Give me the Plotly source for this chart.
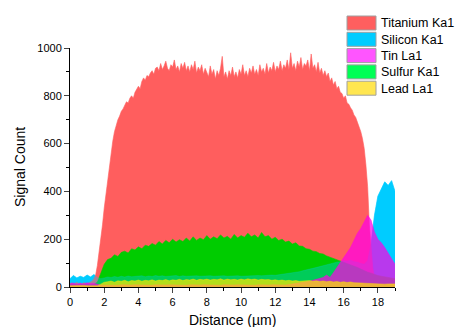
import numpy as np
import plotly.graph_objects as go

# ---------------- data ----------------
x_ti = [round(i * 0.1, 1) for i in range(191)]
titanium = [
    12, 18, 10, 15, 20, 14, 16, 11, 19, 15, 13, 17, 20, 25, 35,
    50, 90, 140, 200, 260, 330, 390, 450, 500, 560, 610, 650, 680, 700, 715,
    735, 745, 760, 775, 770, 790, 800, 790, 815, 825,
    840, 830, 860, 875, 865, 885, 880, 895, 905, 890,
    915, 920, 905, 935, 910, 925, 945, 915, 905, 930,
    920, 950, 910, 925, 900, 935, 915, 940, 905, 925,
    900, 930, 910, 945, 895, 920, 905, 930, 890, 915,
    900, 880, 925, 890, 910, 870, 905, 885, 915, 965,
    880, 900, 870, 905, 885, 920, 880, 900, 875, 910,
    890, 930, 885, 905, 880, 915, 895, 925, 890, 910,
    885, 930, 900, 915, 890, 935, 895, 920, 905, 940,
    900, 925, 910, 945, 905, 930, 915, 950, 910, 980,
    915, 935, 905, 945, 920, 960, 910, 935, 925, 950,
    905, 975, 915, 930, 900, 940, 895, 915, 885, 905,
    880, 895, 860, 875, 845, 860, 830, 840, 815, 810,
    790, 800, 770, 765, 750, 740, 720, 710, 690, 670,
    650, 620, 580, 510, 420, 260, 150, 80, 40, 20,
    15, 12, 10, 14, 11, 9, 12, 10, 13, 9, 11,
]

x_el = [round(i * 0.2, 1) for i in range(96)]
silicon = [
    35, 48, 38, 45, 40, 50, 42, 52, 40, 35,
    38, 42, 40, 44, 41, 45, 42, 46, 43, 45,
    44, 47, 43, 46, 44, 48, 45, 47, 44, 46,
    45, 48, 44, 47, 45, 46, 44, 47, 45, 46,
    44, 47, 45, 46, 44, 47, 45, 46, 44, 47,
    45, 46, 45, 47, 46, 48, 47, 49, 48, 50,
    49, 51, 52, 54, 55, 58, 60, 64, 68, 70,
    75, 78, 82, 86, 90, 94, 97, 101, 104, 106,
    110, 108, 112, 106, 104, 98, 95, 110, 180, 300,
    380, 410, 440, 425, 445, 400,
]
tin = [
    14, 17, 12, 16, 13, 18, 14, 16, 12, 8,
    8, 7, 9, 8, 7, 9, 8, 7, 8, 9,
    8, 7, 9, 8, 7, 9, 8, 7, 8, 9,
    8, 7, 9, 8, 7, 9, 8, 7, 8, 9,
    8, 7, 9, 8, 7, 9, 8, 7, 8, 9,
    8, 7, 9, 8, 7, 9, 8, 7, 8, 9,
    8, 7, 9, 8, 10, 12, 14, 16, 18, 20,
    24, 28, 32, 36, 40, 50, 40, 60, 80, 105,
    125, 145, 165, 195, 225, 245, 270, 300, 280, 230,
    200, 185, 165, 140, 115, 95,
]
sulfur = [
    10, 12, 9, 11, 10, 12, 9, 11, 20, 60,
    95, 115, 120, 135, 128, 145, 150, 142, 160, 155,
    168, 160, 175, 170, 182, 175, 190, 180, 195, 185,
    200, 188, 198, 190, 205, 192, 210, 195, 205, 198,
    215, 200, 210, 202, 218, 205, 212, 200, 220, 205,
    215, 208, 225, 210, 218, 205, 228, 210, 215, 200,
    208, 195, 200, 188, 192, 180, 185, 172, 170, 160,
    158, 150, 148, 140, 138, 130, 125, 120, 115, 110,
    105, 100, 95, 88, 82, 75, 68, 62, 58, 52,
    48, 45, 42, 40, 38, 35,
]
lead = [
    5, 6, 4, 5, 6, 5, 4, 6, 5, 12,
    20, 22, 25, 20, 26, 24, 28, 22, 27, 25,
    29, 24, 28, 26, 30, 25, 29, 27, 31, 26,
    30, 28, 32, 27, 31, 29, 33, 28, 32, 30,
    33, 29, 32, 30, 34, 29, 33, 30, 32, 29,
    33, 30, 34, 31, 33, 29, 32, 30, 31, 28,
    30, 27, 29, 26, 28, 25, 27, 24, 26, 25,
    27, 24, 26, 23, 25, 22, 24, 21, 23, 20,
    22, 19, 21, 18, 19, 17, 16, 15, 14, 15,
    13, 14, 12, 13, 12, 13,
]
names = ["Titanium Ka1", "Silicon Ka1", "Tin La1", "Sulfur Ka1", "Lead La1"]
legend_colors = ["#FF5F5F", "#00CCFF", "#FF55FF", "#00FF55", "#FFE650"]

assert len(titanium) == len(x_ti)
for s in (silicon, tin, sulfur, lead):
    assert len(s) == len(x_el)

# ---------------- figure ----------------
fig = go.Figure()

def area(x, y, color):
    fig.add_trace(go.Scatter(
        x=x, y=y, mode="lines", fill="tozeroy", fillcolor=color,
        line=dict(width=0.6, color=color), showlegend=False, hoverinfo="skip"))

area(x_el, silicon, "rgb(0,204,255)")
area(x_ti, titanium, "rgb(255,94,94)")
area(x_el, sulfur, "rgb(0,204,0)")
area(x_el, silicon, "rgba(0,204,255,0.35)")
area(x_el, tin, "rgba(255,0,230,0.72)")
area(x_el, lead, "rgba(255,230,0,0.7)")

W, H = 455, 327
ml, mr, mt, mb = 70, 60, 48, 40
pw, ph = W - ml - mr, H - mt - mb

def px_to_paper(px, py):
    return (px - ml) / pw, (H - mb - py) / ph

font = "Arial, Liberation Sans, sans-serif"
shapes, annots = [], []
for i, (n, c) in enumerate(zip(names, legend_colors)):
    top = 16 + i * 16.3
    x0, y0 = px_to_paper(347, top)
    x1, y1 = px_to_paper(376, top + 14)
    shapes.append(dict(type="rect", xref="paper", yref="paper", x0=x0, x1=x1,
                       y0=y1, y1=y0, fillcolor=c, line=dict(color="#A0A0A0", width=1)))
    tx, ty = px_to_paper(379, top + 7.5)
    annots.append(dict(text=n, xref="paper", yref="paper", x=tx, y=ty,
                       xanchor="left", yanchor="middle", showarrow=False,
                       font=dict(family=font, size=12.5, color="black")))

# axis titles
tx, ty = px_to_paper(232, 320)
annots.append(dict(text="Distance (µm)", xref="paper", yref="paper", x=tx, y=ty,
                   xanchor="center", yanchor="middle", showarrow=False,
                   font=dict(family=font, size=14, color="black")))
tx, ty = px_to_paper(20, 167)
annots.append(dict(text="Signal Count", xref="paper", yref="paper", x=tx, y=ty,
                   xanchor="center", yanchor="middle", showarrow=False, textangle=-90,
                   font=dict(family=font, size=14, color="black")))

fig.update_layout(
    width=W, height=H,
    margin=dict(l=ml, r=mr, t=mt, b=mb, autoexpand=False),
    paper_bgcolor="white", plot_bgcolor="white",
    font=dict(family=font, color="black"),
    shapes=shapes, annotations=annots,
    showlegend=False,
)
fig.update_xaxes(
    range=[0, 19], dtick=2, tick0=0, ticks="outside", ticklen=5, tickwidth=1,
    showline=True, linecolor="black", linewidth=1, showgrid=False, zeroline=False,
    tickfont=dict(size=11), automargin=False,
    minor=dict(dtick=1, ticks="outside", ticklen=3, tickcolor="black", showgrid=False),
)
fig.update_yaxes(
    range=[0, 1000], dtick=200, ticks="outside", ticklen=5, tickwidth=1,
    showline=True, linecolor="black", linewidth=1, showgrid=False, zeroline=False,
    tickfont=dict(size=11), automargin=False,
    minor=dict(dtick=100, ticks="outside", ticklen=3, tickcolor="black", showgrid=False),
)

fig.write_html("out.html")
